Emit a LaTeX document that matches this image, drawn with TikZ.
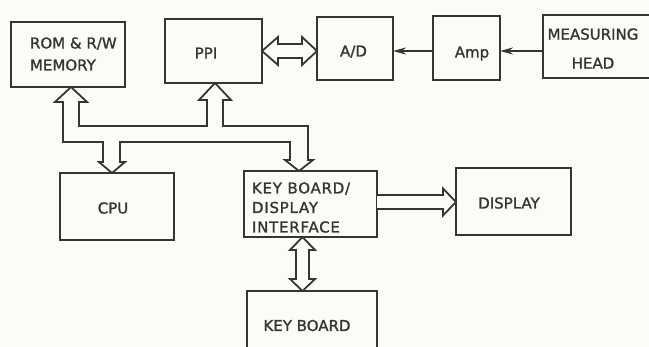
\documentclass[tikz,border=0pt]{standalone}
\usepackage{fontspec}
\setmainfont[FakeBold=1.3]{DejaVu Sans}
\usetikzlibrary{arrows.meta}
\definecolor{ink}{HTML}{353535}
\definecolor{paper}{HTML}{FBFBF8}
\begin{document}
\begin{tikzpicture}[x=1pt,y=-1pt,
  box/.style={draw=ink,line width=1.9pt,outer sep=0pt,inner sep=0pt},
  lbl/.style={text=ink,font=\fontsize{15}{20}\selectfont,inner sep=0pt,outer sep=0pt},
  bus/.style={draw=ink,line width=1.8pt,line join=miter,fill=paper},
  sig/.style={draw=ink,line width=1.6pt,-{Stealth[length=13pt,width=7pt]}}]
\useasboundingbox (0,0) rectangle (649,347);
\fill[paper] (0,0) rectangle (649,347);
\clip (0,0) rectangle (649,347);
% boxes
\node[box,minimum width=114pt,minimum height=65pt] (rom) at (68,54.5) {};
\node[box,minimum width=97pt,minimum height=64pt] (ppi) at (213.5,51) {};
\node[box,minimum width=76pt,minimum height=63pt] (ad) at (355,48.5) {};
\node[box,minimum width=67pt,minimum height=64pt] (amp) at (466.5,48) {};
\node[box,minimum width=157pt,minimum height=63pt] (mh) at (621.5,46.5) {};
\node[box,minimum width=114pt,minimum height=67pt] (cpu) at (117,206.5) {};
\node[box,minimum width=133pt,minimum height=66pt] (kbi) at (310.5,204) {};
\node[box,minimum width=115pt,minimum height=67pt] (disp) at (513.5,201.5) {};
\node[box,minimum width=130pt,minimum height=109pt] (kb) at (312,345.5) {};
% texts
\node[lbl,anchor=west,align=left,font=\fontsize{15}{22}\selectfont] (romtext) at (30,54) {ROM \& R/W\\MEMORY};
\node[lbl,anchor=base] (ppitext) at (206,58.5) {PPI};
\node[lbl,anchor=base] (adtext) at (353.5,56.5) {A/D};
\node[lbl,anchor=base] (amptext) at (472,57.5) {Amp};
\node[lbl,align=center,font=\fontsize{15}{29}\selectfont] (mhtext) at (593,48.5) {MEASURING\\HEAD};
\node[lbl,anchor=base] (cputext) at (113,213.5) {CPU};
\node[lbl,anchor=west,align=left,font=\fontsize{15}{19.5}\selectfont\addfontfeature{LetterSpace=5}] (kbitext) at (252,207.5) {KEY BOARD/\\DISPLAY\\INTERFACE};
\node[lbl,anchor=base] (disptext) at (509,208.5) {DISPLAY};
\node[lbl,anchor=base] (kbtext) at (307,331) {KEY BOARD};
% signal arrows
\draw[sig] (amp.west |- 0,51) -- (ad.east |- 0,51);
\draw[sig] (mh.west |- 0,51) -- (amp.east |- 0,51);
% system bus
\draw[bus] ([xshift=3pt]rom.south) -- (87,102) -- (79,102) -- (79,126) -- (207,126) -- (207,100) -- (199,100)
  -- ([xshift=1.5pt]ppi.south) -- (231,100) -- (223,100) -- (223,126) -- (308,126) -- (308,160) -- (313,160)
  -- ([xshift=-11.5pt]kbi.north) -- (285,160) -- (290,160) -- (290,142) -- (120,142) -- (120,162) -- (125,162)
  -- ([xshift=-5pt]cpu.north) -- (99,162) -- (103,162) -- (103,142) -- (63,142) -- (63,102) -- (55,102) -- cycle;
% PPI <-> A/D
\draw[bus] (ppi.east |- 0,51) -- (278,37) -- (278,44) -- (302,44) -- (302,37) -- (ad.west |- 0,51)
  -- (302,65) -- (302,58) -- (278,58) -- (278,65) -- cycle;
% interface -> display
\draw[bus] (kbi.east |- 0,195) -- (443,195) -- (443,188.5) -- (disp.west |- 0,202) -- (443,215.5) -- (443,209) -- (kbi.east |- 0,209);
% interface <-> keyboard
\coordinate (kt1) at ([xshift=-8pt]kbi.south);
\coordinate (kt2) at (kt1 |- kb.north);
\draw[bus] (kt1) -- (315,250) -- (309,250) -- (309,279) -- (315,279) -- (kt2) -- (290,279) -- (296,279) -- (296,250) -- (290,250) -- cycle;
\end{tikzpicture}
\end{document}
